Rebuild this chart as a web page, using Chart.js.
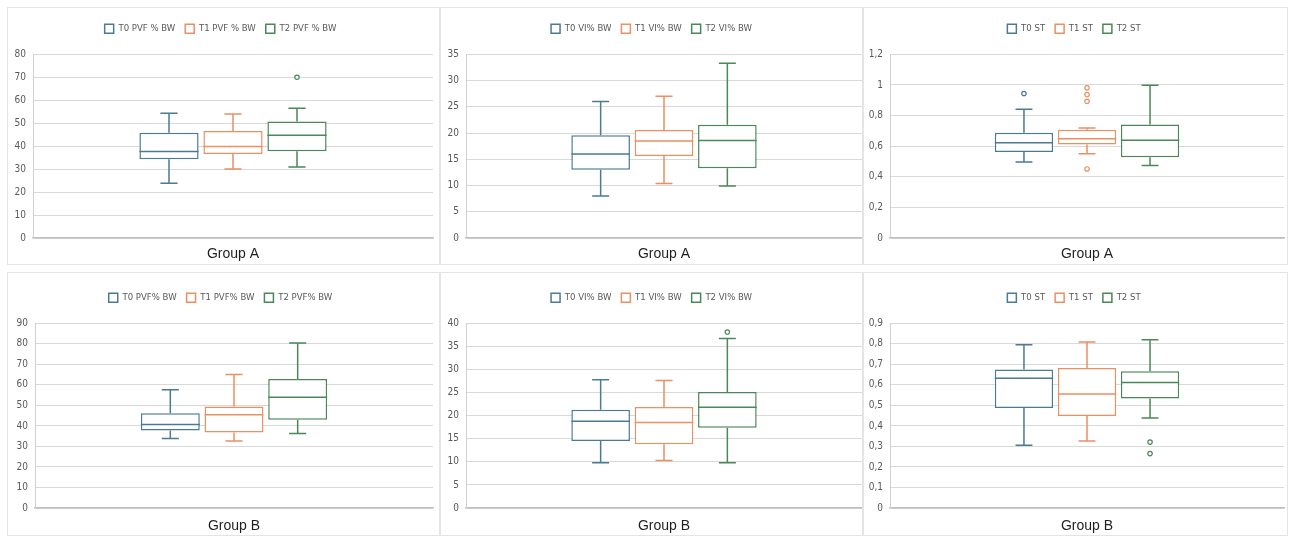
<!DOCTYPE html>
<html>
<head>
<meta charset="utf-8">
<script src="https://cdn.jsdelivr.net/npm/chart.js@4/dist/chart.umd.min.js"></script>
<style>
html, body { margin: 0; padding: 0; background: #fff; width: 1292px; height: 536px; overflow: hidden; }
.panel { position: absolute; border: 1px solid #e4e4e4; box-sizing: border-box; background: #fff; }
.panel canvas { display: block; }
</style>
</head>
<body>
<div class="panel" style="left:7px;top:7px;width:433px;height:258px"><canvas id="c1"></canvas></div>
<div class="panel" style="left:440px;top:7px;width:423px;height:258px"><canvas id="c2"></canvas></div>
<div class="panel" style="left:863px;top:7px;width:425px;height:258px"><canvas id="c3"></canvas></div>
<div class="panel" style="left:7px;top:272px;width:433px;height:264px"><canvas id="c4"></canvas></div>
<div class="panel" style="left:440px;top:272px;width:423px;height:264px"><canvas id="c5"></canvas></div>
<div class="panel" style="left:863px;top:272px;width:425px;height:264px"><canvas id="c6"></canvas></div>
<script>
// 五數摘要: [min, Q1, median, Q3, max]
const groupA_pvf_T0 = [23.8, 34.3, 37.7, 45.8, 54.3];
const groupA_pvf_T1 = [30.1, 36.6, 39.9, 46.6, 54.0];
const groupA_pvf_T2 = [30.9, 37.8, 44.8, 50.7, 56.5];
const groupA_pvf_out = [[], [], [70]];

const groupA_vi_T0 = [8.0, 13.0, 16.0, 19.6, 26.0];
const groupA_vi_T1 = [10.4, 15.6, 18.5, 20.6, 27.0];
const groupA_vi_T2 = [9.9, 13.3, 18.6, 21.6, 33.3];
const groupA_vi_out = [[], [], []];

const groupA_st_T0 = [0.497, 0.561, 0.622, 0.688, 0.841];
const groupA_st_T1 = [0.55, 0.611, 0.648, 0.707, 0.718];
const groupA_st_T2 = [0.473, 0.528, 0.639, 0.742, 0.998];
const groupA_st_out = [[0.944], [0.981, 0.937, 0.893, 0.451], []];

const groupB_pvf_T0 = [33.9, 37.8, 40.7, 46.2, 57.6];
const groupB_pvf_T1 = [32.6, 36.8, 45.4, 49.5, 65.1];
const groupB_pvf_T2 = [36.3, 43.0, 54.0, 62.8, 80.4];
const groupB_pvf_out = [[], [], []];

const groupB_vi_T0 = [9.8, 14.5, 18.8, 21.3, 27.8];
const groupB_vi_T1 = [10.3, 13.8, 18.5, 21.9, 27.6];
const groupB_vi_T2 = [9.8, 17.4, 21.8, 25.1, 36.7];
const groupB_vi_out = [[], [], [38.1]];

const groupB_st_T0 = [0.306, 0.487, 0.632, 0.675, 0.796];
const groupB_st_T1 = [0.326, 0.448, 0.555, 0.682, 0.809];
const groupB_st_T2 = [0.438, 0.534, 0.612, 0.666, 0.820];
const groupB_st_out = [[], [], [0.321, 0.265]];

// 圖例文字
const pvfLabelsA = ['T0 PVF % BW', 'T1 PVF % BW', 'T2 PVF % BW'];
const pvfLabelsB = ['T0 PVF% BW', 'T1 PVF% BW', 'T2 PVF% BW'];
const viLabels = ['T0 VI% BW', 'T1 VI% BW', 'T2 VI% BW'];
const stLabels = ['T0 ST', 'T1 ST', 'T2 ST'];

// Y軸範圍 [max, step]
const pvfAxisA = [80, 10];
const viAxisA = [35, 5];
const stAxisA = [1.2, 0.2];
const pvfAxisB = [90, 10];
const viAxisB = [40, 5];
const stAxisB = [0.9, 0.1];

const colors = ['#4a7b92', '#ea9063', '#4a8759'];
const FONT = "'Liberation Sans Narrow', 'DejaVu Sans Condensed', Arial, sans-serif";

// 繪製中位數、鬚線和離群值
const boxWhiskers = {
    id: 'boxWhiskers',
    afterDatasetsDraw(chart) {
        const ctx = chart.ctx;
        const y = chart.scales.y;
        chart.data.datasets.forEach((ds, i) => {
            const bar = chart.getDatasetMeta(i).data[0];
            if (!bar) return;
            const [min, q1, med, q3, max] = ds.stats;
            const half = bar.width / 2;
            const cap = bar.width * 0.145;
            ctx.save();
            ctx.strokeStyle = ds.borderColor;
            ctx.lineWidth = 1.5;
            ctx.beginPath();
            ctx.moveTo(bar.x - half, y.getPixelForValue(med));
            ctx.lineTo(bar.x + half, y.getPixelForValue(med));
            ctx.moveTo(bar.x, y.getPixelForValue(q3));
            ctx.lineTo(bar.x, y.getPixelForValue(max));
            ctx.moveTo(bar.x - cap, y.getPixelForValue(max));
            ctx.lineTo(bar.x + cap, y.getPixelForValue(max));
            ctx.moveTo(bar.x, y.getPixelForValue(q1));
            ctx.lineTo(bar.x, y.getPixelForValue(min));
            ctx.moveTo(bar.x - cap, y.getPixelForValue(min));
            ctx.lineTo(bar.x + cap, y.getPixelForValue(min));
            ctx.stroke();
            ctx.lineWidth = 1.2;
            ctx.fillStyle = '#fff';
            ds.outliers.forEach(v => {
                ctx.beginPath();
                ctx.arc(bar.x, y.getPixelForValue(v), 2.2, 0, Math.PI * 2);
                ctx.fill();
                ctx.stroke();
            });
            ctx.restore();
        });
    }
};

function formatTick(v) {
    return String(parseFloat(v.toFixed(2))).replace('.', ',');
}

function makeChart(id, title, labels, series, outliers, axis, box) {
    const canvas = document.getElementById(id);
    canvas.width = box.w;
    canvas.height = box.h;
    canvas.style.width = box.w + 'px';
    canvas.style.height = box.h + 'px';
    new Chart(canvas, {
        type: 'bar',
        data: {
            labels: [''],
            datasets: series.map((s, i) => ({
                label: labels[i],
                data: [[s[1], s[3]]],
                stats: s,
                outliers: outliers[i],
                backgroundColor: '#ffffff',
                borderColor: colors[i],
                borderWidth: 1.5,
                borderSkipped: false,
                categoryPercentage: 0.48,
                barPercentage: 0.925
            }))
        },
        options: {
            responsive: false,
            animation: false,
            layout: { padding: { top: box.top, right: box.right, bottom: box.bottom, left: 0 } },
            plugins: {
                legend: {
                    position: 'top',
                    weight: 1000,
                    labels: {
                        boxWidth: 9,
                        boxHeight: 9,
                        padding: 10,
                        color: '#595959',
                        font: { family: FONT, size: 9.5 }
                    }
                },
                // 圖例與圖表之間的空白
                subtitle: {
                    display: true,
                    text: '',
                    position: 'top',
                    weight: 500,
                    padding: 0,
                    font: { size: 9 }
                },
                tooltip: { enabled: false }
            },
            scales: {
                x: {
                    grid: { display: false },
                    border: { color: '#bfbfbf', width: 1.5 },
                    ticks: { display: false },
                    title: {
                        display: true,
                        text: title,
                        color: '#1f1f1f',
                        font: { family: 'Liberation Sans, Arial, sans-serif', size: 14 },
                        padding: { top: 0, bottom: 0 }
                    },
                    afterFit(scale) { scale.height = box.xh; }
                },
                y: {
                    min: 0,
                    max: axis[0],
                    grid: { color: '#d9d9d9', drawTicks: false },
                    border: { color: '#d0d0d0' },
                    ticks: {
                        stepSize: axis[1],
                        padding: 7,
                        color: '#595959',
                        font: { family: FONT, size: 10 },
                        callback: formatTick
                    },
                    afterFit(scale) { scale.width = box.yw; }
                }
            }
        },
        plugins: [boxWhiskers]
    });
}

makeChart('c1', 'Group A', pvfLabelsA, [groupA_pvf_T0, groupA_pvf_T1, groupA_pvf_T2], groupA_pvf_out, pvfAxisA,
    { w: 431, h: 256, top: 6, right: 6, bottom: 1, yw: 25, xh: 25 });
makeChart('c2', 'Group A', viLabels, [groupA_vi_T0, groupA_vi_T1, groupA_vi_T2], groupA_vi_out, viAxisA,
    { w: 421, h: 256, top: 6, right: 0, bottom: 1, yw: 25, xh: 25 });
makeChart('c3', 'Group A', stLabels, [groupA_st_T0, groupA_st_T1, groupA_st_T2], groupA_st_out, stAxisA,
    { w: 423, h: 256, top: 6, right: 3, bottom: 1, yw: 26, xh: 25 });
makeChart('c4', 'Group B', pvfLabelsB, [groupB_pvf_T0, groupB_pvf_T1, groupB_pvf_T2], groupB_pvf_out, pvfAxisB,
    { w: 431, h: 262, top: 10, right: 6, bottom: 0, yw: 27, xh: 27 });
makeChart('c5', 'Group B', viLabels, [groupB_vi_T0, groupB_vi_T1, groupB_vi_T2], groupB_vi_out, viAxisB,
    { w: 421, h: 262, top: 10, right: 0, bottom: 0, yw: 25, xh: 27 });
makeChart('c6', 'Group B', stLabels, [groupB_st_T0, groupB_st_T1, groupB_st_T2], groupB_st_out, stAxisB,
    { w: 423, h: 262, top: 10, right: 3, bottom: 0, yw: 26, xh: 27 });
</script>
</body>
</html>
